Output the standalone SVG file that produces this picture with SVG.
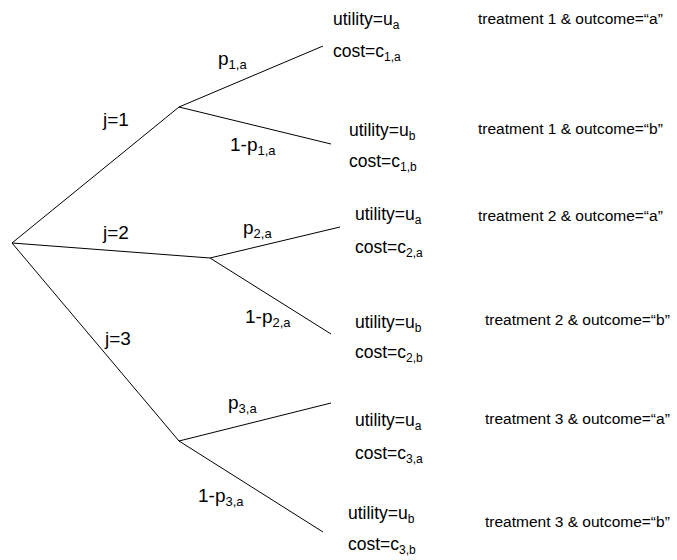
<svg xmlns="http://www.w3.org/2000/svg" width="677" height="560" viewBox="0 0 677 560">
<style>
  .edge { stroke: #000; stroke-width: 1; fill: none; }
  .lbl { font-family: "Liberation Sans", Arial, sans-serif; font-size: 19px; fill: #000; }
  .lbl .sub { font-size: 13px; }
  .val { font-family: "Liberation Sans", Arial, sans-serif; font-size: 17.5px; fill: #000; }
  .val .sub { font-size: 12px; }
  .desc { font-family: "Liberation Sans", Arial, sans-serif; font-size: 15.5px; fill: #000; }
</style>
<rect width="677" height="560" fill="#fff"/>
<g id="connectors">
  <line class="edge" x1="12" y1="243" x2="179" y2="107"/>
  <line class="edge" x1="12" y1="243" x2="210" y2="258"/>
  <line class="edge" x1="12" y1="243" x2="179" y2="441"/>
  <line class="edge" x1="179" y1="107" x2="323" y2="46"/>
  <line class="edge" x1="179" y1="107" x2="331" y2="144"/>
  <line class="edge" x1="210" y1="258" x2="340" y2="227"/>
  <line class="edge" x1="210" y1="258" x2="331" y2="334"/>
  <line class="edge" x1="179" y1="441" x2="331" y2="403"/>
  <line class="edge" x1="179" y1="441" x2="323" y2="532"/>
</g>
<g id="edge-labels">
  <text class="lbl" x="103" y="126">j=1</text>
  <text class="lbl" x="103" y="239">j=2</text>
  <text class="lbl" x="105" y="345">j=3</text>
  <text class="lbl" x="218" y="65">p<tspan class="sub" dy="4">1,a</tspan></text>
  <text class="lbl" x="230" y="151">1-p<tspan class="sub" dy="4">1,a</tspan></text>
  <text class="lbl" x="243" y="234">p<tspan class="sub" dy="4">2,a</tspan></text>
  <text class="lbl" x="245" y="323">1-p<tspan class="sub" dy="4">2,a</tspan></text>
  <text class="lbl" x="228" y="409">p<tspan class="sub" dy="4">3,a</tspan></text>
  <text class="lbl" x="198" y="502">1-p<tspan class="sub" dy="4">3,a</tspan></text>
</g>
<g id="leaf-1a">
  <text class="val" x="333" y="25">utility=u<tspan class="sub" dy="4">a</tspan></text>
  <text class="val" x="333" y="57">cost=c<tspan class="sub" dy="4">1,a</tspan></text>
  <text class="desc" x="478" y="24">treatment 1 &amp; outcome=“a”</text>
</g>
<g id="leaf-1b">
  <text class="val" x="349" y="136">utility=u<tspan class="sub" dy="4">b</tspan></text>
  <text class="val" x="349" y="167">cost=c<tspan class="sub" dy="4">1,b</tspan></text>
  <text class="desc" x="478" y="134">treatment 1 &amp; outcome=“b”</text>
</g>
<g id="leaf-2a">
  <text class="val" x="355" y="220">utility=u<tspan class="sub" dy="4">a</tspan></text>
  <text class="val" x="355" y="253">cost=c<tspan class="sub" dy="4">2,a</tspan></text>
  <text class="desc" x="478" y="221">treatment 2 &amp; outcome=“a”</text>
</g>
<g id="leaf-2b">
  <text class="val" x="355" y="328">utility=u<tspan class="sub" dy="4">b</tspan></text>
  <text class="val" x="355" y="358">cost=c<tspan class="sub" dy="4">2,b</tspan></text>
  <text class="desc" x="485" y="325">treatment 2 &amp; outcome=“b”</text>
</g>
<g id="leaf-3a">
  <text class="val" x="355" y="426">utility=u<tspan class="sub" dy="4">a</tspan></text>
  <text class="val" x="355" y="459">cost=c<tspan class="sub" dy="4">3,a</tspan></text>
  <text class="desc" x="485" y="424">treatment 3 &amp; outcome=“a”</text>
</g>
<g id="leaf-3b">
  <text class="val" x="348" y="519">utility=u<tspan class="sub" dy="4">b</tspan></text>
  <text class="val" x="348" y="550">cost=c<tspan class="sub" dy="4">3,b</tspan></text>
  <text class="desc" x="485" y="527">treatment 3 &amp; outcome=“b”</text>
</g>
</svg>
